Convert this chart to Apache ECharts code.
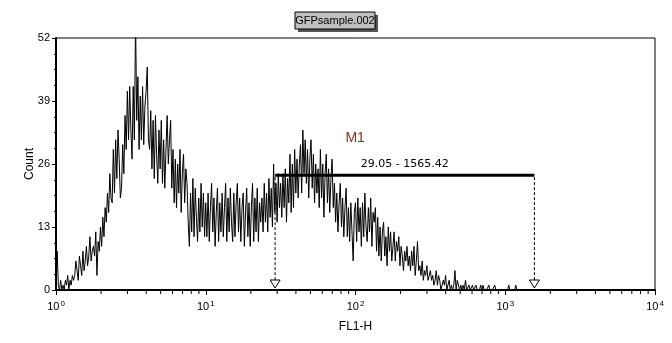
<!DOCTYPE html>
<html>
<head>
<meta charset="utf-8">
<script src="https://cdn.jsdelivr.net/npm/echarts@6/dist/echarts.min.js"></script>
<style>
  html, body { margin: 0; padding: 0; background: #fff; }
  #main { width: 672px; height: 343px; }
</style>
</head>
<body>
<div id="main"></div>
<script>
// FL1-H histogram, 512 channels over 4 decades (128 per decade)
var channelsPerDecade = 128;

// decade 10^0 - 10^1
var counts0 = [
  0, 8, 1, 0, 2, 0, 1, 0, 2, 1, 3, 0, 2, 1, 3, 2,
  3, 6, 4, 2, 7, 5, 3, 8, 4, 6, 9, 5, 7, 11, 6, 8,
  9, 7, 12, 3, 10, 8, 13, 9, 15, 11, 17, 14, 20, 16, 24, 19,
  18, 29, 20, 31, 23, 33, 27, 19, 21, 30, 24, 36, 29, 41, 31, 42,
  33, 27, 42, 31, 56, 35, 44, 29, 40, 31, 42, 30, 38, 41, 46, 31,
  29, 37, 25, 35, 23, 36, 28, 22, 33, 25, 35, 22, 31, 21, 29, 36,
  26, 31, 35, 21, 29, 18, 27, 17, 26, 20, 29, 16, 24, 28, 18, 25,
  22, 14, 9, 20, 12, 23, 11, 21, 15, 10, 19, 12, 22, 13, 20, 11
];
// decade 10^1 - 10^2
var counts1 = [
  18, 11, 20, 10, 17, 22, 12, 19, 9, 16, 21, 10, 18, 12, 20, 11,
  17, 22, 10, 19, 12, 21, 14, 10, 20, 11, 18, 22, 12, 19, 10, 17,
  20, 9, 16, 21, 11, 18, 9, 17, 22, 10, 19, 12, 21, 10, 18, 14,
  19, 12, 22, 14, 20, 12, 23, 15, 21, 13, 26, 16, 22, 14, 24, 17,
  22, 15, 24, 17, 25, 14, 23, 18, 28, 16, 26, 17, 29, 20, 27, 19,
  26, 30, 20, 33, 24, 31, 22, 29, 19, 27, 31, 21, 28, 18, 26, 20,
  25, 17, 29, 19, 26, 15, 24, 28, 18, 25, 16, 23, 27, 17, 22, 14,
  20, 12, 18, 22, 13, 19, 11, 17, 21, 11, 17, 10, 18, 12, 6, 16
];
// decade 10^2 - 10^3
var counts2 = [
  18, 10, 19, 12, 17, 9, 18, 11, 20, 13, 10, 17, 12, 19, 9, 16,
  14, 17, 8, 15, 7, 13, 6, 12, 14, 7, 11, 5, 13, 8, 12, 6,
  9, 12, 6, 10, 8, 11, 5, 9, 7, 4, 8, 6, 9, 5, 7, 4,
  8, 5, 9, 3, 6, 10, 4, 5, 3, 6, 2, 4, 3, 5, 2, 3,
  4, 2, 3, 1, 2, 4, 1, 3, 2, 0, 1, 2, 1, 3, 0, 1,
  2, 0, 1, 0, 1, 4, 0, 2, 1, 0, 1, 0, 1, 0, 2, 0,
  0, 1, 0, 0, 1, 0, 0, 1, 0, 0, 0, 1, 0, 1, 0, 0,
  0, 0, 1, 0, 0, 0, 0, 1, 0, 0, 0, 0, 0, 0, 0, 0
];
// decade 10^3 - 10^4 (start only, rest empty)
var counts3 = [0, 0, 0, 1, 0, 0, 0, 0, 0, 1, 0, 0, 0, 0, 0, 0];

var yTicks = [0, 13, 26, 39, 52];
var markerName = 'M1';
var markerRange = [29.05, 1565.42];
var markerLevel = 23.7;
var sampleName = 'GFPsample.002';

var counts = counts0.concat(counts1, counts2, counts3);
var histData = counts.map(function (c, i) {
  return [Math.pow(10, i / channelsPerDecade), c];
});

// minor ticks 2..9 in each decade
var minorTicks = [];
for (var d = 0; d < 4; d++) {
  for (var k = 2; k <= 9; k++) minorTicks.push(k * Math.pow(10, d));
}

var chartDom = document.getElementById('main');
var myChart = echarts.init(chartDom, null, { renderer: 'canvas' });
var labelFont = 'Liberation Sans, Arial, sans-serif';

var option = {
  animation: false,
  backgroundColor: '#fff',
  grid: {
    left: 56, right: 17, top: 38, bottom: 53,
    show: true, borderColor: '#000', borderWidth: 1
  },
  graphic: [
    { type: 'rect', shape: { x: 298, y: 15, width: 80, height: 17 }, style: { fill: '#555' }, z: 100 },
    { type: 'rect', shape: { x: 295, y: 12, width: 80, height: 17 }, style: { fill: '#c0c0c0', stroke: '#000', lineWidth: 1 }, z: 101 },
    { type: 'text', x: 335, y: 21, z: 102,
      style: { text: sampleName, fill: '#000', font: '11px ' + labelFont, textAlign: 'center', textVerticalAlign: 'middle' } }
  ],
  xAxis: {
    type: 'log',
    logBase: 10,
    min: 1,
    max: 10000,
    name: 'FL1-H',
    nameLocation: 'middle',
    nameGap: 31,
    nameMoveOverlap: false,
    nameTextStyle: { fontFamily: labelFont, fontSize: 12, color: '#000' },
    axisLine: { lineStyle: { color: '#000', width: 2 } },
    axisTick: { length: 5, lineStyle: { color: '#000' } },
    splitLine: { show: false },
    axisLabel: {
      margin: 10,
      formatter: function (v) {
        return '{b|10}{s|' + Math.round(Math.log10(v)) + '}';
      },
      rich: {
        b: { fontFamily: labelFont, fontSize: 11, color: '#000' },
        s: { fontFamily: labelFont, fontSize: 8, color: '#000', verticalAlign: 'top', padding: [0, 0, 6, 1] }
      }
    }
  },
  yAxis: {
    type: 'value',
    min: yTicks[0],
    max: yTicks[yTicks.length - 1],
    interval: 13,
    name: 'Count',
    nameLocation: 'middle',
    nameGap: 20,
    nameMoveOverlap: false,
    nameTextStyle: { fontFamily: labelFont, fontSize: 12, color: '#000' },
    axisLine: { show: true, lineStyle: { color: '#000', width: 2 } },
    axisTick: { show: true, length: 4, lineStyle: { color: '#000' } },
    minorTick: { show: true, splitNumber: 4, length: 2, lineStyle: { color: '#000' } },
    splitLine: { show: false },
    axisLabel: { margin: 6, fontFamily: labelFont, fontSize: 11, color: '#000' }
  },
  series: [
    {
      type: 'line',
      data: histData,
      showSymbol: false,
      symbol: 'none',
      lineStyle: { color: '#000', width: 1 },
      clip: true,
      silent: true,
      z: 3
    },
    {
      type: 'custom',
      data: minorTicks,
      silent: true,
      clip: false,
      renderItem: function (params, api) {
        var p = api.coord([api.value(0), 0]);
        return {
          type: 'line',
          shape: { x1: p[0], y1: p[1] + 1, x2: p[0], y2: p[1] + 4 },
          style: { stroke: '#000', lineWidth: 1 }
        };
      },
      encode: { x: 0 },
      z: 4
    },
    {
      type: 'custom',
      data: [[markerRange[0], markerLevel, markerRange[1]]],
      silent: true,
      clip: false,
      encode: { x: [0, 2], y: 1 },
      renderItem: function (params, api) {
        var a = api.coord([api.value(0), api.value(1)]);
        var b = api.coord([api.value(2), api.value(1)]);
        var base = api.coord([1, 0])[1];
        var children = [];
        children.push({
          type: 'line',
          shape: { x1: a[0], y1: a[1], x2: b[0], y2: b[1] },
          style: { stroke: '#000', lineWidth: 3 }
        });
        [a[0], b[0]].forEach(function (x) {
          children.push({
            type: 'line',
            shape: { x1: x, y1: a[1] + 2, x2: x, y2: base - 10 },
            style: { stroke: '#000', lineWidth: 1, lineDash: [3, 2] }
          });
          children.push({
            type: 'polygon',
            shape: { points: [[x - 5, base - 10], [x + 5, base - 10], [x, base - 2]] },
            style: { fill: '#fff', stroke: '#000', lineWidth: 1 }
          });
        });
        children.push({
          type: 'text',
          x: (a[0] + b[0]) / 2,
          y: a[1] - 11,
          style: {
            text: markerRange[0].toFixed(2) + ' - ' + markerRange[1].toFixed(2),
            fill: '#000', font: '11px DejaVu Sans, Verdana, sans-serif',
            textAlign: 'center', textVerticalAlign: 'middle'
          }
        });
        children.push({
          type: 'text',
          x: a[0] + 80,
          y: a[1] - 37,
          style: {
            text: markerName, fill: '#8b2a1a', font: '14px ' + labelFont,
            textAlign: 'center', textVerticalAlign: 'middle'
          }
        });
        return { type: 'group', children: children };
      },
      z: 5
    }
  ]
};

option && myChart.setOption(option);
</script>
</body>
</html>
